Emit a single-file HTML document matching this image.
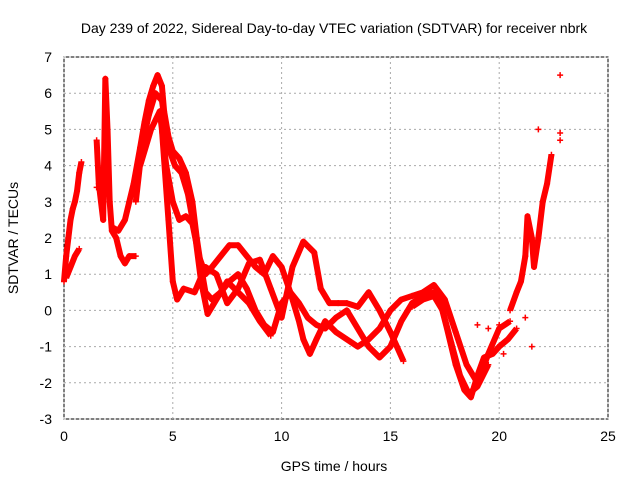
<!DOCTYPE html>
<html><head><meta charset="utf-8"><style>
body{margin:0;background:#fff}
svg text{font-family:"Liberation Sans",sans-serif;font-size:14px;fill:#000}
</style></head><body>
<svg id="c" width="640" height="480">
<rect x="64" y="57" width="544" height="362" fill="none" stroke="#000"/>
<text x="334" y="33" text-anchor="middle">Day 239 of 2022, Sidereal Day-to-day VTEC variation (SDTVAR) for receiver nbrk</text>
<text x="334" y="471" text-anchor="middle">GPS time / hours</text>
<text transform="translate(18,238) rotate(-90)" text-anchor="middle">SDTVAR / TECUs</text>
<g id="grid"></g><g id="ticks"></g><g id="series"></g>
</svg>
<script>
const xTicks=[0,5,10,15,20,25];
const yTicks=[-3,-2,-1,0,1,2,3,4,5,6,7];
const trackA=[[0,0.8],[0.1,1.5],[0.2,2],[0.3,2.5],[0.4,2.8],[0.5,3],[0.6,3.3],[0.7,3.8],[0.8,4.1]];
const trackB=[[0.1,0.9],[0.3,1.2],[0.5,1.5],[0.7,1.7]];
const trackC=[[1.5,4.7],[1.6,3.5],[1.8,2.5],[1.9,6.4],[2.0,5],[2.1,3],[2.2,2.2],[2.4,2],[2.6,1.5],[2.8,1.3],[3.0,1.5],[3.3,1.5]];
const trackD=[[2.2,2.3],[2.5,2.2],[2.8,2.5],[3.0,3],[3.2,3.5],[3.5,4.5],[3.7,5.2],[3.9,5.8],[4.1,6.2],[4.3,6.5],[4.5,6.2],[4.6,5.5],[4.8,4.8],[5.0,4.4],[5.3,4.2],[5.6,3.8],[5.9,3],[6.1,2],[6.3,1.2],[6.5,0.5],[6.8,0.3],[7.2,0.5],[7.6,0.8],[8,1],[8.4,0.6],[8.8,0],[9.2,-0.4],[9.6,-0.6],[10,0.2],[10.4,0.5],[10.8,0.2],[11.2,-0.2],[11.6,-0.4],[12,-0.5],[12.5,-0.2],[13,0],[13.5,-0.5],[14,-1],[14.5,-1.3],[15,-1],[15.5,-0.3],[16,0.2],[16.5,0.4],[17,0.5],[17.3,0.2],[17.6,-0.5],[18,-1.5],[18.4,-2.2],[18.7,-2.4],[19,-1.8],[19.3,-1.3],[19.7,-1.2],[20,-1],[20.4,-0.8],[20.8,-0.5]];
const trackE=[[3.5,4],[4,5],[4.4,5.5],[4.7,4],[5,3],[5.3,2.5],[5.6,2.6],[5.9,2.4],[6.2,1.5],[6.5,1],[6.8,1.2],[7.2,1.5],[7.6,1.8],[8,1.8],[8.4,1.5],[8.8,1.2],[9.2,1],[9.6,1.5],[10,1.2],[10.4,0.5],[10.8,-0.3],[11,-0.8],[11.3,-1.2],[11.6,-0.8],[12,-0.3],[12.5,-0.6],[13,-0.8],[13.5,-1],[14,-0.8],[14.5,-0.5],[15,0],[15.5,0.3],[16,0.4],[16.5,0.5],[17,0.7],[17.5,0.3],[18,-0.6],[18.5,-1.5],[19,-2],[19.5,-1.2],[20,-0.5],[20.5,-0.3]];
const trackF=[[4.5,5],[4.8,2.5],[5,0.8],[5.2,0.3],[5.5,0.6],[6,0.5],[6.5,1.2],[7,1.0],[7.5,0.2],[8,0.6],[8.5,1.3],[9,1.4],[9.5,0.6],[10,-0.2],[10.5,1.2],[11,1.9],[11.5,1.6],[11.8,0.6],[12.2,0.2],[12.6,0.2],[13,0.2],[13.5,0.1],[14,0.5],[14.5,0],[15,-0.6],[15.3,-1],[15.6,-1.4]];
const trackG=[[20.5,0],[20.8,0.5],[21,0.8],[21.2,1.5],[21.3,2.6],[21.5,2],[21.6,1.2],[21.8,2],[22,3],[22.2,3.5],[22.4,4.3]];
const trackH=[[3.3,3],[3.6,4.6],[3.9,5.4],[4.2,6],[4.5,5.8],[4.8,4.5],[5.1,4],[5.4,3.8],[5.7,3.2],[6,2.2],[6.3,0.8],[6.6,-0.1],[7,0.3],[7.5,0.8],[8,0.5],[8.5,0.2],[9,-0.3],[9.5,-0.7]];
const trackI=[[16,0.1],[16.5,0.3],[17,0.4],[17.4,0],[17.8,-0.9],[18.2,-1.8],[18.6,-2.3],[19,-2.1],[19.5,-1.5]];
const scatter=[[21.8,5],[22.8,4.7],[22.8,4.9],[22.8,6.5],[21.2,-0.2],[21.5,-1],[20.2,-1.2],[20,-0.4],[19.5,-0.5],[19,-0.4],[1.5,3.4],[1.9,6.0]];
const NS="http://www.w3.org/2000/svg";
const X=v=>64+v*(544/25), Y=v=>419-(v+3)*(362/10);
const g=document.getElementById('grid'),t=document.getElementById('ticks'),s=document.getElementById('series');
function mk(tag,a,p){const e=document.createElementNS(NS,tag);for(const k in a)e.setAttribute(k,a[k]);p.appendChild(e);return e;}
xTicks.forEach(v=>{
 const l=mk('line',{x1:X(v),x2:X(v),y1:57,y2:419,stroke:'#aaa','stroke-dasharray':'2,3'},g);
 
 
 const tx=mk('text',{x:X(v),y:441,'text-anchor':'middle'},t);tx.textContent=v;
 
 
});
yTicks.forEach(v=>{
 const l=mk('line',{x1:64,x2:608,y1:Y(v),y2:Y(v),stroke:'#aaa','stroke-dasharray':'2,3'},g);
 
 
 const tx=mk('text',{x:52,y:Y(v)+5,'text-anchor':'end'},t);tx.textContent=v;
 
 
});
function marks(pts){let d='';pts.forEach(p=>{const x=X(p[0]),y=Y(p[1]);d+=`M${x-3},${y}h6M${x},${y-3}v6`;});return d;}
[trackA,trackB,trackC,trackD,trackE,trackF,trackG,trackH,trackI].forEach(tr=>{
 const pl=mk('polyline',{points:tr.map(p=>X(p[0])+','+Y(p[1])).join(' '),fill:'none',stroke:'#f00','stroke-width':6,'stroke-linejoin':'round'},s);
 
 
 const m=mk('path',{d:marks(tr),stroke:'#f00','stroke-width':1.5},s);
 
 
});
const sc=mk('path',{d:marks(scatter),stroke:'#f00','stroke-width':1.5},s);


</script>
</body></html>
